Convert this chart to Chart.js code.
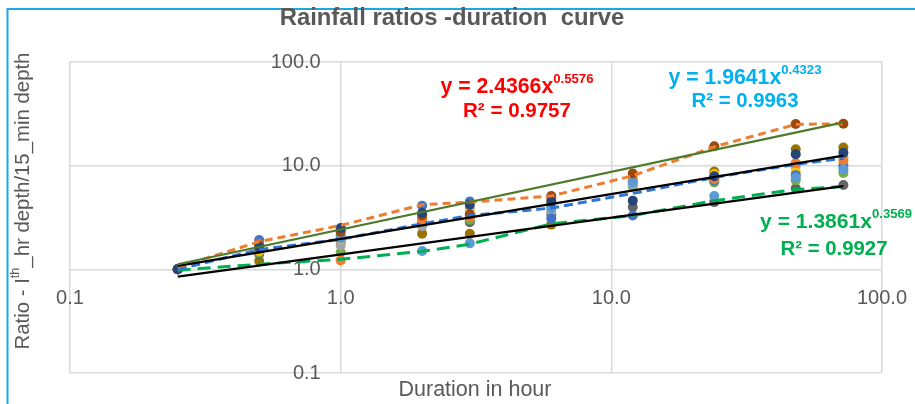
<!DOCTYPE html>
<html>
<head>
<meta charset="utf-8">
<script src="https://cdn.jsdelivr.net/npm/chart.js@4"></script>
<style>
  html, body { margin: 0; padding: 0; background: #fff; }
  #chart { display: block; }
</style>
</head>
<body>
<canvas id="chart" width="915" height="404"></canvas>
<script>
// Durations in hours (x) and ratio readings per station (y)
const durations = [0.25, 0.5, 1, 2, 3, 6, 12, 24, 48, 72];
const axisTicks = [0.1, 1, 10, 100];

const station1 = [1, 1.92, 2.35, 4.1, 4.5, 3.1, 3.3, 7.2, 8.1, 9.9];
const station2 = [1, 1.75, 1.22, 3.0, 3.2, 4.8, 7.3, 7.4, 10.6, 11.3];
const station3 = [1, 1.55, 1.7, 2.6, 3.9, 3.6, 6.6, 7.6, 9.8, 12.0];
const station4 = [1, 1.5, 1.95, 3.1, 3.6, 4.3, 7.6, 8.3, 8.7, 10.5];
const station5 = [1, 1.58, 2.0, 1.5, 1.78, 3.9, 6.9, 5.1, 7.7, 9.2];
const station6 = [1, 1.45, 1.46, 3.2, 3.0, 4.0, 6.3, 6.9, 7.25, 8.5];
const station7 = [1, 1.62, 2.5, 3.5, 4.2, 4.5, 4.6, 7.9, 12.9, 13.3];
const station8 = [1, 1.7, 2.3, 3.3, 3.4, 5.1, 8.4, 15.4, 25.2, 25.4];
const station9 = [1, 1.4, 1.85, 2.8, 2.85, 3.4, 4.0, 4.45, 6.05, 6.5];
const station10 = [1, 1.2, 2.1, 2.2, 2.2, 2.7, 7.0, 8.8, 14.4, 15.0];

// dashed envelope curves
const maxCurve = [1.05, 1.85, 2.65, 4.2, 4.45, 5.1, 8.0, 15.2, 25.0, 25.4];
const meanCurve = [1.0, 1.55, 1.95, 2.75, 3.3, 3.9, 5.4, 7.7, 10.3, 11.8];
const minCurve = [0.98, 1.12, 1.25, 1.49, 1.75, 2.75, 3.3, 4.6, 5.9, 6.3];

// power-law trend lines, end values at first and last duration
const trendEnds = [0.25, 72];
const trendMax = [1.12, 26.2];
const trendMean = [1.08, 12.5];
const trendMin = [0.85, 6.35];

const stations = [station1, station2, station3, station4, station5,
  station6, station7, station8, station9, station10];
const stationColors = ["#4472C4", "#ED7D31", "#A5A5A5", "#FFC000", "#5B9BD5",
  "#70AD47", "#264478", "#9E480E", "#636363", "#997300"];
// dark blue ends up on top, like the reference
const stationOrder = [14, 13, 16, 15, 12, 17, 10, 11, 18, 19];

const FONT = "'Liberation Sans', Arial, sans-serif";
const GREY = "#595959";

const toPoints = (xs, ys) => xs.map((x, i) => ({ x, y: ys[i] }));

const datasets = [];

stations.forEach((values, i) => {
  datasets.push({
    label: `Station ${i + 1}`,
    data: toPoints(durations, values),
    backgroundColor: stationColors[i],
    borderColor: stationColors[i],
    pointRadius: 5,
    pointBorderWidth: 0,
    showLine: false,
    order: stationOrder[i]
  });
});

function dashedLine(label, values, color, dash, order) {
  return {
    label,
    data: toPoints(durations, values),
    borderColor: color,
    borderWidth: 3,
    borderDash: dash,
    pointRadius: 0,
    showLine: true,
    fill: false,
    tension: 0,
    order
  };
}

datasets.push(dashedLine("Max", maxCurve, "#ED7D31", [8, 5], 5));
datasets.push(dashedLine("Mean", meanCurve, "#2E75D6", [9, 5], 6));
datasets.push(dashedLine("Min", minCurve, "#00B050", [13, 7], 7));

function trendLine(label, values, color, order) {
  return {
    label,
    data: toPoints(trendEnds, values),
    borderColor: color,
    borderWidth: 2.2,
    pointRadius: 0,
    showLine: true,
    fill: false,
    order
  };
}

datasets.push(trendLine("Power (Max)", trendMax, "#4E7A2C", 1));
datasets.push(trendLine("Power (Mean)", trendMean, "#000000", 2));
datasets.push(trendLine("Power (Min)", trendMin, "#000000", 3));

// draws a piece of text made of normal and superscript parts, centred on (cx, cy)
function drawRich(ctx, parts, cx, cy, size, weight, color) {
  const supSize = size * 0.62;
  const widths = parts.map(p => {
    ctx.font = `${weight} ${p.sup ? supSize : size}px ${FONT}`;
    return ctx.measureText(p.t).width;
  });
  const total = widths.reduce((a, b) => a + b, 0);
  let x = cx - total / 2;
  ctx.fillStyle = color;
  ctx.textAlign = "left";
  ctx.textBaseline = "middle";
  parts.forEach((p, i) => {
    ctx.font = `${weight} ${p.sup ? supSize : size}px ${FONT}`;
    ctx.fillText(p.t, x, p.sup ? cy - size * 0.36 : cy);
    x += widths[i];
  });
}

// font size that makes the parts fill the target width
function fitSize(ctx, parts, target, weight) {
  const base = 20;
  let total = 0;
  parts.forEach(p => {
    ctx.font = `${weight} ${p.sup ? base * 0.62 : base}px ${FONT}`;
    total += ctx.measureText(p.t).width;
  });
  return base * target / total;
}

const labels = [
  { parts: [{ t: "Rainfall ratios -duration  curve" }], x: 452, y: 18, w: 345, weight: "bold", color: GREY },
  { parts: [{ t: "Duration in hour" }], x: 475, y: 390, w: 153, weight: "normal", color: GREY },
  { parts: [{ t: "y = 2.4366x" }, { t: "0.5576", sup: true }], x: 517, y: 87, w: 153, weight: "bold", color: "#FF0000" },
  { parts: [{ t: "R² = 0.9757" }], x: 517, y: 111, w: 108, weight: "bold", color: "#FF0000" },
  { parts: [{ t: "y = 1.9641x" }, { t: "0.4323", sup: true }], x: 745, y: 78, w: 153, weight: "bold", color: "#00B0F0" },
  { parts: [{ t: "R² = 0.9963" }], x: 745, y: 101, w: 107, weight: "bold", color: "#00B0F0" },
  { parts: [{ t: "y = 1.3861x" }, { t: "0.3569", sup: true }], x: 836, y: 222, w: 152, weight: "bold", color: "#00B050" },
  { parts: [{ t: "R² = 0.9927" }], x: 834, y: 249, w: 107, weight: "bold", color: "#00B050" }
];

const yTitleParts = [{ t: "Ratio - I" }, { t: "th", sup: true }, { t: "_hr depth/15_min depth" }];

const decorations = {
  id: "decorations",
  beforeDraw(chart) {
    const ctx = chart.ctx;
    ctx.save();
    ctx.fillStyle = "#ffffff";
    ctx.fillRect(0, 0, chart.width, chart.height);
    ctx.strokeStyle = "#1FA8E0";
    ctx.lineWidth = 2;
    ctx.beginPath();
    ctx.moveTo(7.5, chart.height);
    ctx.lineTo(7.5, 9);
    ctx.lineTo(chart.width, 9);
    ctx.stroke();
    ctx.restore();
  },
  afterDraw(chart) {
    const ctx = chart.ctx;
    ctx.save();
    labels.forEach(l => {
      const size = fitSize(ctx, l.parts, l.w, l.weight);
      drawRich(ctx, l.parts, l.x, l.y, size, l.weight, l.color);
    });
    ctx.translate(23, 201);
    ctx.rotate(-Math.PI / 2);
    const size = fitSize(ctx, yTitleParts, 297, "normal");
    drawRich(ctx, yTitleParts, 0, 0, size, "normal", GREY);
    ctx.restore();
  }
};

// axes cross each other near 1.0; y labels sit a little left of the crossing
function logAxis(position, padding, shrink) {
  return {
    type: "logarithmic",
    min: 0.1,
    max: 100,
    position,
    afterBuildTicks: scale => {
      scale.ticks = axisTicks.map(v => ({ value: v }));
    },
    afterFit: scale => {
      shrink(scale);
      scale.paddingLeft = 0;
      scale.paddingRight = 0;
      scale.paddingTop = 0;
      scale.paddingBottom = 0;
    },
    grid: { color: "#D9D9D9", lineWidth: 1.5, drawTicks: false },
    border: { display: false },
    ticks: {
      padding,
      color: GREY,
      autoSkip: false,
      maxRotation: 0,
      font: { family: FONT, size: 20 },
      callback: value => Number(value).toFixed(1)
    }
  };
}

new Chart(document.getElementById("chart").getContext("2d"), {
  type: "scatter",
  data: { datasets },
  options: {
    responsive: false,
    animation: false,
    layout: { padding: { left: 70, right: 33, top: 62, bottom: 31 } },
    plugins: {
      legend: { display: false },
      tooltip: { enabled: false },
      title: { display: false }
    },
    scales: {
      x: logAxis({ y: 1 }, 17, scale => { scale.height = 0; }),
      y: logAxis({ x: 0.844 }, 0, scale => { scale.width = 0; })
    }
  },
  plugins: [decorations]
});
</script>
</body>
</html>
